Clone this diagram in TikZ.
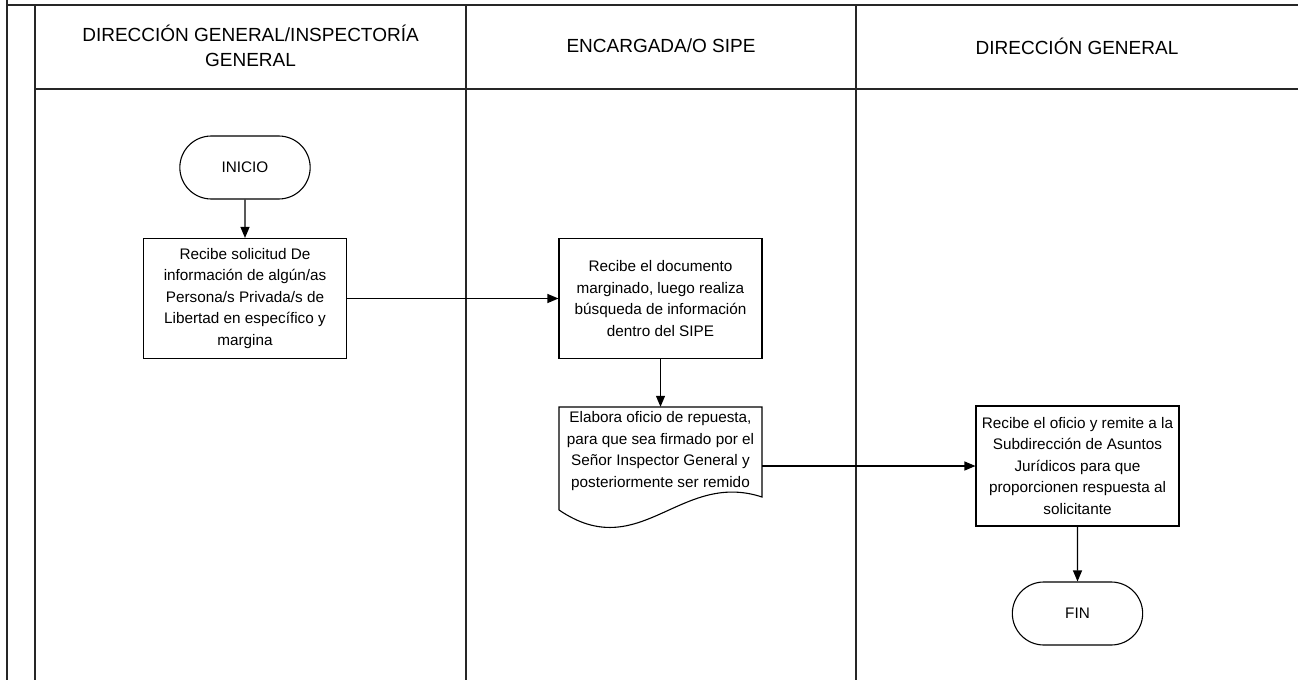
\documentclass[tikz,border=0pt]{standalone}
\usepackage{xcolor}
\usepackage{fontspec}
\setmainfont{Liberation Sans}
\usepackage{tikz}
\usetikzlibrary{shapes, arrows.meta, positioning}

\tikzset{
    proceso/.style={draw, rectangle, line width=1.1pt, align=center, minimum width=203pt, minimum height=120pt, inner sep=2pt, font=\fontsize{15.3}{21.5}\selectfont},
    terminal/.style={draw, rounded rectangle, line width=1.1pt, minimum width=137pt, minimum height=63pt, font=\fontsize{15.3}{21.5}\selectfont},
    carril/.style={align=center, font=\fontsize{19}{25}\selectfont},
    flecha/.style={-{Triangle[length=11pt, width=9pt]}, line width=1.1pt},
    linea/.style={line width=1.6pt, black!85}
}

\begin{document}
\begin{tikzpicture}[x=1pt, y=-1pt]
            \useasboundingbox (0,0) rectangle (1298,680);

            % marco y carriles
            \draw[linea] (7,0) -- (7,680);
            \draw[linea] (7,5) -- (1298,5);
            \draw[linea] (35,5) -- (35,680);
            \draw[linea] (35,89) -- (1298,89);
            \draw[linea] (466,5) -- (466,680);
            \draw[linea] (856,5) -- (856,680);

            \node[carril] (c1) at (250.5,46) {DIRECCIÓN GENERAL/INSPECTORÍA\\GENERAL};
            \node[carril] (c2) at (661,46) {ENCARGADA/O SIPE};
            \node[carril] (c3) at (1077,46) {DIRECCIÓN GENERAL};

            % pasos
            \node[terminal] (inicio) at (245,167.5) {INICIO};
            \node[proceso] (recibe) at (245,298.5) {Recibe solicitud De\\información de algún/as\\Persona/s Privada/s de\\Libertad en específico y\\margina};
            \node[proceso] (busca) at (660.5,298.5) {Recibe el documento\\marginado, luego realiza\\búsqueda de información\\dentro del SIPE};
            \node[rectangle, align=center, minimum width=203pt, minimum height=88pt, inner sep=2pt, font=\fontsize{15.3}{21.5}\selectfont] (oficio) at (660.5,451) {Elabora oficio de repuesta,\\para que sea firmado por el\\Señor Inspector General y\\posteriormente ser remido};
            \draw[line width=1.1pt] (559,510) -- (559,407) -- (762,407) -- (762,497)
                .. controls (680,470) and (640,565) .. (559,510);
            \node[proceso] (remite) at (1077.5,466) {Recibe el oficio y remite a la\\Subdirección de Asuntos\\Jurídicos para que\\proporcionen respuesta al\\solicitante};
            \node[terminal] (fin) at (1077.5,613.5) {FIN};

            \draw[flecha] (inicio) -- (recibe);
            \draw[flecha] (recibe) -- (busca);
            \draw[flecha] (busca) -- (oficio);
            \draw[flecha] (remite.west -| oficio.east) -- (remite.west);
            \draw[flecha] (remite) -- (fin);
        \end{tikzpicture}
\end{document}
